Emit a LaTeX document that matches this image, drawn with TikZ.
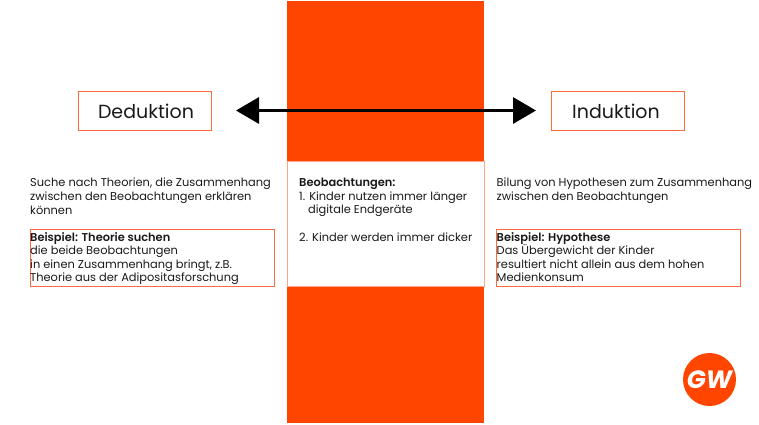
\documentclass[tikz,border=0pt]{standalone}
\usepackage{fontspec}
\setmainfont[BoldFont={Poppins SemiBold}]{Poppins}
\newfontfamily\logofont{Poppins}
\usetikzlibrary{arrows.meta}
\definecolor{cworange}{HTML}{FF4500}
\definecolor{cwline}{HTML}{FF6A3A}
\tikzset{
  bigbox/.style={draw=cwline,line width=1pt,minimum width=133.5pt,minimum height=39pt},
  bigtext/.style={inner sep=0pt,font=\fontsize{19}{22}\selectfont,text=black!90},
  para/.style={anchor=north west,inner sep=0pt,align=left,font=\fontsize{11.4}{13.6}\selectfont,text=black!90},
  examplebox/.style={draw=cwline,line width=1pt,anchor=north west,inner sep=0pt,minimum width=244pt,minimum height=57pt},
  tip/.style={line width=3.2pt,{Triangle[length=23pt,width=26pt]}-{Triangle[length=23pt,width=26pt]}}
}
\begin{document}
\begin{tikzpicture}[x=1pt,y=-1pt]
\useasboundingbox (0,0) rectangle (759,424);
\fill[cworange] (287,1) rectangle (484,423); %middle band
\node[draw=cwline!60,fill=white,line width=1pt,anchor=north west,inner sep=0pt,minimum width=197pt,minimum height=125pt] (obsbox) at (287,161) {};

\node[bigbox] (deduktion) at (145,110.5) {};
\node[bigtext] (deduktiontext) at (146,111) {Deduktion};
\node[bigbox] (induktion) at (618,110.5) {};
\node[bigtext] (induktiontext) at (616,111) {Induktion};
\coordinate (tipleft) at (236,110.5);
\coordinate (tipright) at (536,110.5);
\draw[tip] (tipleft) -- (tipright);

\node[para] (deducttext) at (30,178) {Suche nach Theorien, die Zusammenhang\\zwischen den Beobachtungen erklären\\können}; %left
\node[examplebox] (deductbox) at (30,229) {};
\node[para] (deductex) at (30,232) {\textbf{Beispiel: Theorie suchen}\\die beide Beobachtungen\\in einen Zusammenhang bringt, z.B.\\Theorie aus der Adipositasforschung};

\node[para] (obstext) at (299,178) {\textbf{Beobachtungen:}\\1. Kinder nutzen immer länger\\\hspace*{9pt}digitale Endgeräte\\[13.6pt]2. Kinder werden immer dicker}; %middle

\node[para] (inducttext) at (496.5,178) {Bilung von Hypothesen zum Zusammenhang\\zwischen den Beobachtungen}; %right
\node[examplebox] (inductbox) at (496,229) {};
\node[para] (inductex) at (496.5,232) {\textbf{Beispiel: Hypothese}\\Das Übergewicht der Kinder\\resultiert nicht allein aus dem hohen\\Medienkonsum};

\node[circle,fill=cworange,minimum size=53pt,inner sep=0pt,text=white,font=\logofont\fontsize{25}{25}\bfseries\itshape\selectfont] (logo) at (709.5,379.5) {GW};
\end{tikzpicture}
\end{document}
